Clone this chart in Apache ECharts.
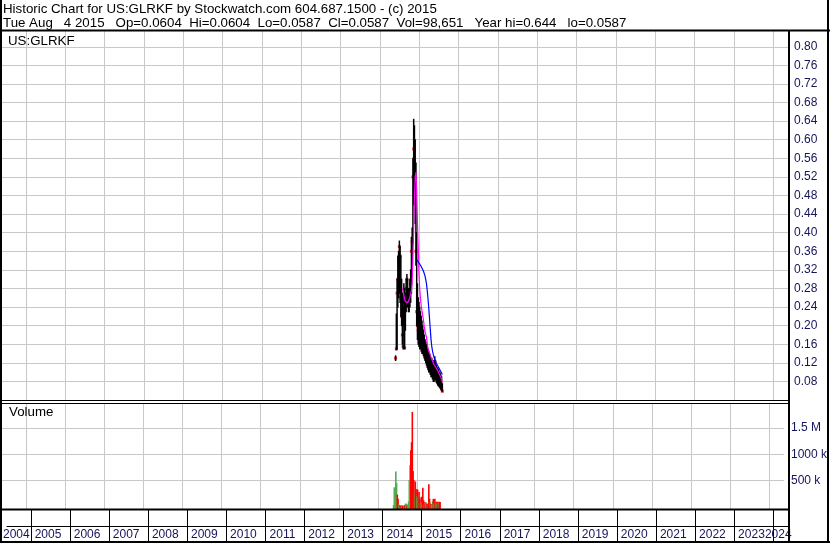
<!DOCTYPE html>
<html><head><meta charset="utf-8">
<script src="https://cdn.jsdelivr.net/npm/echarts@6/dist/echarts.min.js"></script>
<style>html,body{margin:0;padding:0;background:#fff}#c{width:830px;height:543px}</style>
</head><body><div id="c"></div>
<script>
// ---------- data (weekly readings from the picture) ----------
const weeks = ['2014-05-26','2014-06-02','2014-06-09','2014-06-16','2014-06-23','2014-06-30','2014-07-07','2014-07-14','2014-07-21','2014-07-28','2014-08-04','2014-08-11','2014-08-18','2014-08-25','2014-09-01','2014-09-08','2014-09-15','2014-09-22','2014-09-29','2014-10-06','2014-10-13','2014-10-20','2014-10-27','2014-11-03','2014-11-10','2014-11-17','2014-11-24','2014-12-01','2014-12-08','2014-12-15','2014-12-22','2014-12-29','2015-01-05','2015-01-12','2015-01-19','2015-01-26','2015-02-02','2015-02-09','2015-02-16','2015-02-23','2015-03-02','2015-03-09','2015-03-16','2015-03-23','2015-03-30','2015-04-06','2015-04-13','2015-04-20','2015-04-27','2015-05-04','2015-05-11','2015-05-18','2015-05-25','2015-06-01','2015-06-08','2015-06-15','2015-06-22','2015-06-29','2015-07-06','2015-07-13','2015-07-20','2015-07-27','2015-08-03'];
const highs = [0.135,0.225,0.30,0.35,0.36,0.382,0.37,0.35,0.30,0.27,0.24,0.29,0.28,0.27,0.30,0.31,0.30,0.28,0.28,0.30,0.32,0.39,0.41,0.56,0.644,0.63,0.60,0.55,0.40,0.29,0.26,0.25,0.24,0.23,0.22,0.21,0.20,0.19,0.18,0.17,0.165,0.16,0.155,0.15,0.145,0.14,0.135,0.13,0.13,0.125,0.12,0.125,0.133,0.125,0.115,0.11,0.108,0.105,0.10,0.098,0.094,0.09,0.075];
const lows = [0.125,0.148,0.15,0.24,0.26,0.27,0.25,0.22,0.20,0.16,0.15,0.20,0.15,0.19,0.23,0.25,0.24,0.23,0.23,0.24,0.25,0.27,0.33,0.38,0.46,0.48,0.42,0.33,0.20,0.17,0.16,0.155,0.15,0.15,0.145,0.14,0.14,0.135,0.13,0.125,0.12,0.115,0.11,0.105,0.10,0.10,0.095,0.09,0.09,0.085,0.08,0.08,0.085,0.083,0.078,0.075,0.072,0.07,0.068,0.066,0.063,0.06,0.0587];
const closes = [0.13,0.15,0.27,0.30,0.34,0.37,0.35,0.26,0.22,0.18,0.155,0.25,0.152,0.24,0.28,0.30,0.26,0.25,0.255,0.27,0.29,0.36,0.38,0.52,0.58,0.55,0.50,0.36,0.23,0.20,0.19,0.18,0.17,0.17,0.16,0.155,0.15,0.145,0.14,0.135,0.13,0.125,0.12,0.115,0.11,0.11,0.105,0.10,0.10,0.095,0.09,0.09,0.10,0.095,0.085,0.082,0.08,0.078,0.075,0.072,0.068,0.064,0.0587];
const maShort = [null,null,null,null,null,null,null,null,null,0.28,0.275,0.265,0.257,0.252,0.249,0.248,0.249,0.251,0.256,0.262,0.268,0.275,0.295,0.35,0.41,0.475,0.52,0.53,0.49,0.42,0.37,0.31,0.28,0.258,0.243,0.232,0.222,0.211,0.198,0.188,0.181,0.175,0.162,0.150,0.145,0.141,0.137,0.132,0.128,0.124,0.12,0.116,0.113,0.111,0.108,0.105,0.102,0.099,0.095,0.092,0.088,0.085,0.078];
const maLong = [null,null,null,null,null,null,null,null,null,null,null,null,null,null,null,null,null,null,null,null,null,null,null,null,null,null,null,null,0.342,0.340,0.338,0.335,0.333,0.330,0.327,0.324,0.321,0.317,0.313,0.307,0.299,0.29,0.275,0.258,0.238,0.215,0.192,0.17,0.155,0.145,0.138,0.132,0.127,0.123,0.119,0.116,0.113,0.110,0.107,0.104,0.101,0.098,0.095];
const volumes = [30000,370000,120000,670000,450000,230000,150000,40000,30000,25000,20000,30000,15000,20000,15000,30000,60000,55000,20000,40000,100000,510000,790000,1075000,1230000,1810000,680000,510000,280000,480000,340000,200000,330000,180000,280000,150000,60000,190000,80000,360000,120000,40000,90000,90000,60000,30000,60000,430000,150000,80000,50000,40000,100000,150000,60000,150000,70000,95000,60000,95000,60000,95000,90000];
const volDir = ['U','U','U','U','U','D','D','U','D','U','D','U','D','D','U','D','U','U','D','U','U','U','U','D','D','D','D','D','U','D','D','U','D','U','D','D','U','D','U','D','D','U','D','U','D','U','D','D','D','U','D','U','U','D','U','D','U','D','U','D','U','D','D'];
const yearTicks = [2005,2006,2007,2008,2009,2010,2011,2012,2013,2014,2015,2016,2017,2018,2019,2020,2021,2022,2023,2024];
const yearLabels = [2004,2005,2006,2007,2008,2009,2010,2011,2012,2013,2014,2015,2016,2017,2018,2019,2020,2021,2022,2023,2024];
const priceTicks = [0.08,0.12,0.16,0.20,0.24,0.28,0.32,0.36,0.40,0.44,0.48,0.52,0.56,0.60,0.64,0.68,0.72,0.76,0.80];
const volTicks = [500000,1000000,1500000];
const volTickText = ['500 k','1000 k','1.5 M'];
const headerLine1 = 'Historic Chart for US:GLRKF by Stockwatch.com 604.687.1500 - (c) 2015';
const headerLine2 = 'Tue Aug   4 2015   Op=0.0604  Hi=0.0604  Lo=0.0587  Cl=0.0587  Vol=98,651   Year hi=0.644   lo=0.0587';
const symbolName = 'US:GLRKF';
const volumeTitle = 'Volume';

// ---------- helpers ----------
function toYear(s){const d=new Date(s+'T00:00:00Z');const y=d.getUTCFullYear();const a=Date.UTC(y,0,1),b=Date.UTC(y+1,0,1);return y+(d.getTime()-a)/(b-a);}
const X_MIN=2004.39, X_MAX=2024.375;
const P_MIN=0.04, P_MAX=0.834;
const V_MIN=-44000, V_MAX=1979000;
const xs = weeks.map(toYear);
const hlData = xs.map((x,i)=>[x,lows[i],highs[i]]);
const closeData = xs.map((x,i)=>[x,closes[i]]);
const maSData = xs.map((x,i)=>[x,maShort[i]]).filter(p=>p[1]!=null);
const maLData = xs.map((x,i)=>[x,maLong[i]]).filter(p=>p[1]!=null);
const volData = xs.map((x,i)=>[x,volumes[i],volDir[i]==='U'?1:0]);
const labelPos = yearLabels.map(y=>Math.min(Math.max(y+0.44,X_MIN+0.24),X_MAX-0.25));
const mainLabelPos = labelPos.slice(0,-1);
const lastLabelPos = labelPos.slice(-1);

const FONT='"Liberation Sans", Arial, sans-serif';
const LABEL_COLOR='#14145a';
const GRID_COLOR='#c8c8c8';

const chart = echarts.init(document.getElementById('c'),null,{renderer:'canvas'});
const xBase = (gi)=>({type:'value',gridIndex:gi,min:X_MIN,max:X_MAX,
  axisLine:{show:false},axisLabel:{show:false},
  axisTick:{show:false,customValues:yearTicks},
  splitLine:{show:true,lineStyle:{color:GRID_COLOR,width:1}}});
const labelStyle = {show:true,margin:3,color:LABEL_COLOR,fontSize:12,fontFamily:FONT,
  showMinLabel:true,showMaxLabel:true,hideOverlap:false,formatter:v=>String(Math.floor(v))};

const option = {
  animation:false,
  backgroundColor:'#fff',
  grid:[
    {left:2,right:42,top:31,height:369,show:false},
    {left:2,right:42,top:403,height:106,show:false},
    {left:2,right:42,top:509,height:17,show:false}
  ],
  xAxis:[
    xBase(0),
    xBase(1),
    {type:'value',gridIndex:2,min:X_MIN,max:X_MAX,position:'bottom',
      axisLine:{show:true,lineStyle:{color:'#000',width:1}},
      axisTick:{show:true,customValues:yearTicks,length:17,inside:false,lineStyle:{color:'#000',width:1}},
      splitLine:{show:true,lineStyle:{color:'#000',width:1}},
      axisLabel:Object.assign({customValues:mainLabelPos},labelStyle)},
    {type:'value',gridIndex:2,min:X_MIN,max:X_MAX,position:'bottom',
      axisLine:{show:false},axisTick:{show:false},splitLine:{show:false},
      axisLabel:Object.assign({customValues:lastLabelPos},labelStyle)}
  ],
  yAxis:[
    {type:'value',gridIndex:0,position:'right',min:P_MIN,max:P_MAX,
      axisLine:{show:false},axisTick:{show:false,customValues:priceTicks},
      splitLine:{show:true,lineStyle:{color:GRID_COLOR,width:1}},
      axisLabel:{show:true,customValues:priceTicks,margin:6,color:LABEL_COLOR,fontSize:12,fontFamily:FONT,
        formatter:v=>v.toFixed(2)}},
    {type:'value',gridIndex:1,position:'right',min:V_MIN,max:V_MAX,
      axisLine:{show:false},axisTick:{show:false,customValues:volTicks},
      splitLine:{show:true,lineStyle:{color:GRID_COLOR,width:1}},
      axisLabel:{show:true,customValues:volTicks,margin:7,color:LABEL_COLOR,fontSize:12,fontFamily:FONT,
        formatter:v=>volTickText[volTicks.indexOf(v)]||''}},
    {type:'value',gridIndex:2,min:0,max:1,show:false}
  ],
  series:[
    {type:'scatter',xAxisIndex:0,yAxisIndex:0,data:closeData,symbol:'rect',symbolSize:3,
      itemStyle:{color:'#ff0000'},z:2,silent:true},
    {type:'custom',xAxisIndex:0,yAxisIndex:0,data:hlData,z:3,silent:true,
      renderItem:(params,api)=>{
        const p1=api.coord([api.value(0),api.value(1)]);
        const p2=api.coord([api.value(0),api.value(2)]);
        return {type:'line',shape:{x1:p1[0],y1:p1[1]+0.5,x2:p2[0],y2:p2[1]-0.5},style:{stroke:'#000',lineWidth:1.5}};
      }},
    {type:'line',xAxisIndex:0,yAxisIndex:0,data:maSData,showSymbol:false,z:4,silent:true,
      lineStyle:{color:'#ff00ff',width:1.2},itemStyle:{color:'#ff00ff'}},
    {type:'line',xAxisIndex:0,yAxisIndex:0,data:maLData,showSymbol:false,z:5,silent:true,
      lineStyle:{color:'#0000ff',width:1.2},itemStyle:{color:'#0000ff'}},
    {type:'custom',xAxisIndex:1,yAxisIndex:1,data:volData,z:3,silent:true,
      renderItem:(params,api)=>{
        const top=api.coord([api.value(0),api.value(1)]);
        const base=api.coord([api.value(0),V_MIN]);
        const w=1.6;
        return {type:'rect',shape:{x:top[0]-w/2,y:top[1],width:w,height:base[1]-top[1]},
          style:{fill:api.value(2)?'#4caf4c':'#ff0000'}};
      }}
  ],
  graphic:[
    {type:'text',left:3,top:3,silent:true,style:{text:headerLine1,font:'13.3px '+FONT,fill:'#000'}},
    {type:'text',left:3,top:16.5,silent:true,style:{text:headerLine2,font:'13.3px '+FONT,fill:'#000'}},
    {type:'text',left:8,top:35,silent:true,z:10,style:{text:symbolName,font:'13.3px '+FONT,fill:'#000'}},
    {type:'text',left:9,top:406,silent:true,z:10,style:{text:volumeTitle,font:'13.3px '+FONT,fill:'#000'}},
    // frame lines
    {type:'line',z:20,silent:true,shape:{x1:0,y1:30.5,x2:830,y2:30.5},style:{stroke:'#000',lineWidth:2}},
    {type:'line',z:20,silent:true,shape:{x1:0,y1:400.5,x2:790,y2:400.5},style:{stroke:'#000',lineWidth:1}},
    {type:'line',z:20,silent:true,shape:{x1:0,y1:403.5,x2:790,y2:403.5},style:{stroke:'#000',lineWidth:1}},
    {type:'line',z:20,silent:true,shape:{x1:0,y1:509.5,x2:790,y2:509.5},style:{stroke:'#000',lineWidth:2}},
    {type:'line',z:20,silent:true,shape:{x1:0,y1:542,x2:830,y2:542},style:{stroke:'#000',lineWidth:2}},
    {type:'line',z:20,silent:true,shape:{x1:1,y1:0,x2:1,y2:543},style:{stroke:'#000',lineWidth:2}},
    {type:'line',z:20,silent:true,shape:{x1:789,y1:30,x2:789,y2:543},style:{stroke:'#000',lineWidth:2}},
    {type:'line',z:20,silent:true,shape:{x1:828,y1:0,x2:828,y2:543},style:{stroke:'#000',lineWidth:2}}
  ]
};
chart.setOption(option);
</script>
</body></html>
